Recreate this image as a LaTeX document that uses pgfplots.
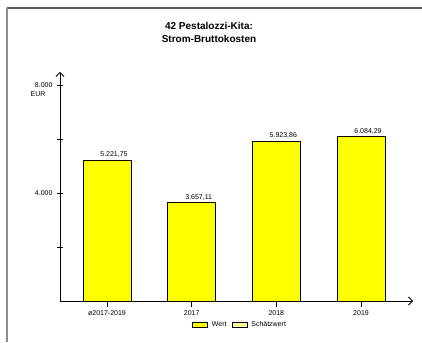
\documentclass[border=0pt]{standalone}
\usepackage{pgfplots}
\pgfplotsset{compat=1.18}
\usetikzlibrary{arrows.meta}
\usepackage{fontspec}
\setmainfont{Liberation Sans}
\definecolor{barfill}{RGB}{255,255,0}
\definecolor{framegrey}{RGB}{90,90,90}

\begin{document}
\begin{tikzpicture}[x=1pt,y=1pt]
\useasboundingbox (0,0) rectangle (422,-342);
% frame (top and left only, as cropped)
\draw[framegrey, line width=1.4pt] (7,-8) -- (422,-8);
\draw[framegrey!70, line width=1.4pt] (7,-8) -- (7,-342);

\node[font=\bfseries\fontsize{10}{13}\selectfont, align=center] at (209,-32)
  {42 Pestalozzi-Kita:\\Strom-Bruttokosten};

\begin{axis}[
    at={(60pt,-301pt)}, anchor=south west,
    scale only axis,
    width=353pt, height=229pt,
    xmin=-0.555, xmax=3.614,
    ymin=0, ymax=8481,
    axis lines=left,
    axis line style={line width=0.8pt, black, -{Straight Barb[length=4pt,width=8pt]}},
    ybar,
    bar width=48pt,
    /pgf/number format/assume math mode=true,
    xtick={0,1,2,3},
    xticklabels={ø2017-2019, 2017, 2018, 2019},
    ytick={2000,4000,6000,8000},
    yticklabels={,4.000,,8.000},
    x tick style={black, line width=0.7pt},
    y tick style={black, line width=0.7pt},
    xtick align=outside,
    ytick align=center,
    major tick length=6pt,
    ticklabel style={font=\fontsize{7}{8}\selectfont},
    yticklabel style={xshift=-1pt},
    nodes near coords,
    nodes near coords style={font=\fontsize{7}{8}\selectfont, xshift=7pt, yshift=-1.5pt,
      /pgf/number format/.cd, fixed, fixed zerofill, precision=2, use comma, 1000 sep={.}},
    legend style={at={(0.51,-0.105)}, anchor=center, draw=none, fill=none,
      legend columns=2, font=\fontsize{7}{8}\selectfont,
      /tikz/every odd column/.append style={column sep=2pt},
      /tikz/every even column/.append style={column sep=3pt}},
    legend image code/.code={\draw[#1] (0pt,-2.2pt) rectangle (15pt,2.2pt);},
]
\addplot[draw=black, line width=0.8pt, fill=barfill] coordinates {
    (0, 5221.75)
    (1, 3657.11)
    (2, 5923.86)
    (3, 6084.29)
};
\addlegendentry{Wert}
\addlegendimage{draw=black, line width=0.8pt, fill=barfill!35}
\addlegendentry{Schätzwert}
\end{axis}
\node[font=\fontsize{7}{8}\selectfont] at (38,-94) {EUR};
\end{tikzpicture}
\end{document}
